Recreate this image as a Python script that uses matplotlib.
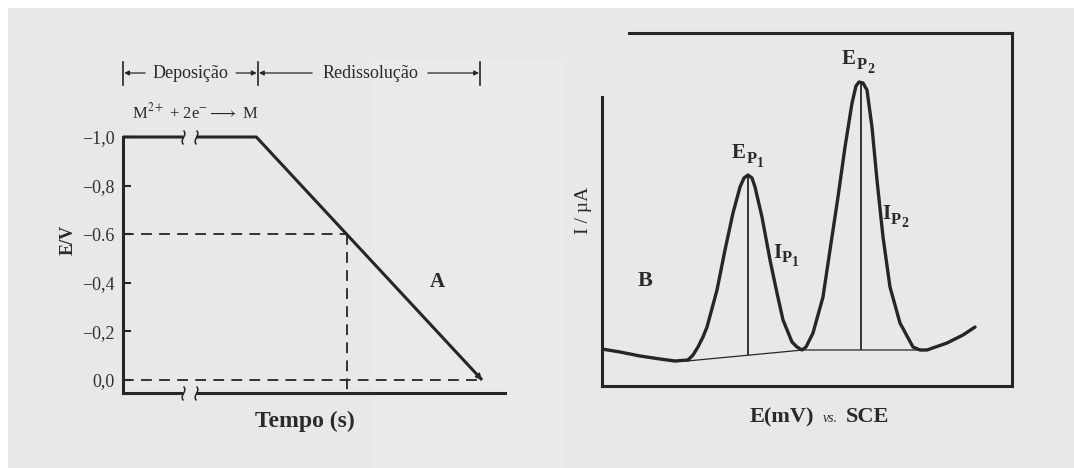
import matplotlib
matplotlib.use('Agg')
import matplotlib.pyplot as plt
from matplotlib import transforms
from matplotlib.path import Path
from matplotlib.patches import Rectangle

plt.rcParams['font.family'] = ['Liberation Serif', 'DejaVu Serif']
plt.rcParams['mathtext.fontset'] = 'stix'

# ---------------- Panel A data ----------------
tempo = [0.0, 3.49, 9.40]
potencial = [-1.0, -1.0, 0.0]
t_break = 1.75
E_marca = -0.6
t_marca = 5.854
yticks = [-1.0, -0.8, -0.6, -0.4, -0.2, 0.0]
ytick_labels = ["−1,0", "−0,8", "−0.6", "−0,4", "−0,2", "0,0"]
t_fases = [0.0, 3.53, 9.35]

# ---------------- Panel B data ----------------
E_mv = [0.0, 4.39, 9.27, 14.15, 17.80, 20.98, 22.20, 23.41, 24.63, 25.61,
        28.05, 30.00, 31.95, 33.66, 34.63, 35.61, 36.59, 37.32, 39.02, 40.98,
        42.68, 44.15, 46.34, 47.56, 48.78, 49.76, 51.46, 53.90, 55.61, 57.56,
        59.27, 60.98, 61.95, 62.68, 63.66, 64.63, 65.85, 67.07, 68.54, 70.24,
        72.68, 75.85, 77.56, 79.27, 84.15, 88.05, 90.98]
I_ua = [10.48, 9.63, 8.50, 7.65, 7.08, 7.37, 8.78, 11.05, 13.88, 16.71,
        27.20, 38.53, 49.01, 56.37, 58.92, 59.77, 58.92, 56.37, 47.88, 35.69,
        26.35, 18.70, 12.46, 11.05, 10.20, 11.05, 15.01, 25.21, 38.53, 53.54,
        67.71, 80.17, 84.99, 86.12, 85.84, 83.85, 73.37, 58.36, 42.21, 28.05,
        17.85, 11.05, 10.20, 10.20, 12.18, 14.45, 16.71]
E_base = [20.73, 49.02, 79.27]
I_base = [7.08, 10.20, 10.20]
E_picos = [35.61, 63.17]
I_picos = [59.77, 86.12]
I_pico_base = [8.73, 10.06]

W, H = 1074, 468
lc = '#262626'
tc = '#2a2a2a'
bg = '#e8e8e8'

def fx(px):
    return px / W

def fy(py):
    return 1 - py / H

fig = plt.figure(figsize=(W / 100, H / 100), dpi=100, facecolor='white')
fig.patches.append(Rectangle((8 / W, 0), 1 - 8 / W, 1 - 8 / H, transform=fig.transFigure,
                             facecolor=bg, edgecolor='none', zorder=-10))
fig.patches.append(Rectangle((fx(372), 0), (565 - 372) / W, fy(60), transform=fig.transFigure,
                             facecolor='#eaeaea', edgecolor='none', zorder=-9))

# ================= Panel A =================
axA = fig.add_axes([fx(123), fy(393), (505 - 123) / W, (393 - 137) / H])
axA.set_facecolor('none')
axA.set_xlim(0, 10)
ybot = 0.0535
axA.set_ylim(ybot, -1.0)
for s in ['top', 'right']:
    axA.spines[s].set_visible(False)
for s in ['left', 'bottom']:
    axA.spines[s].set_linewidth(2.2)
    axA.spines[s].set_color(lc)
axA.set_xticks([])
axA.set_yticks(yticks, ytick_labels)
axA.tick_params(axis='y', direction='in', length=6, width=1.5, color=lc,
                labelsize=13, pad=6, labelcolor='#303030')

axA.plot(tempo, potencial, color=lc, lw=2.2, clip_on=False, solid_capstyle='butt', zorder=3)
axA.annotate('', xy=(tempo[-1], potencial[-1]), xytext=(9.0, -0.0677),
             arrowprops=dict(arrowstyle='-|>', color=lc, lw=1.2, mutation_scale=9,
                             shrinkA=0, shrinkB=0), annotation_clip=False)
dash = (0, (6, 4))
axA.plot([0, t_marca], [E_marca, E_marca], color=lc, lw=1.3, ls=dash)
axA.plot([t_marca, t_marca], [E_marca, ybot], color=lc, lw=1.3, ls=dash, clip_on=False)
axA.plot([0, tempo[-1]], [0, 0], color=lc, lw=1.3, ls=dash)

# break marks
sq = Path([(0, -1), (-0.7, -0.3), (0.7, 0.3), (0, 1)],
          [Path.MOVETO, Path.CURVE4, Path.CURVE4, Path.CURVE4])
for yb in [-1.0, ybot]:
    axA.plot([t_break - 0.17, t_break + 0.17], [yb, yb], color=bg, lw=3.5,
             clip_on=False, zorder=4, solid_capstyle='butt')
    axA.plot([t_break - 0.17, t_break + 0.17], [yb, yb], ls='none', marker=sq,
             markersize=10, mew=1.1, mec=lc, mfc='none', clip_on=False, zorder=5)

# header
trans = transforms.blended_transform_factory(axA.transData, fig.transFigure)
yh = fy(73)
for t in t_fases:
    axA.plot([t, t], [fy(62), fy(85)], transform=trans, color=lc, lw=1.2, clip_on=False)
arrow_kw = dict(arrowstyle='-|>', color=lc, lw=0.9, mutation_scale=7, shrinkA=0, shrinkB=0)
for x0, x1 in [(0.58, 0.03), (2.96, 3.50), (4.95, 3.56), (7.98, 9.32)]:
    axA.annotate('', xy=(x1, yh), xytext=(x0, yh), xycoords=trans, textcoords=trans,
                 arrowprops=arrow_kw, annotation_clip=False)
axA.text(1.77, yh, "Deposição", transform=trans, ha='center', va='center',
         fontsize=13, color=tc)
axA.text(6.47, yh, "Redissolução", transform=trans, ha='center', va='center',
         fontsize=13, color=tc)

fig.text(fx(195), fy(112), r"M$^{2+}$ + 2e$^{-}$$\longrightarrow$ M", ha='center',
         va='center', fontsize=12, color=tc)
fig.text(fx(68), fy(240), "E/V", rotation=90, ha='center', va='center',
         fontsize=13, fontweight='bold', color=tc)
fig.text(fx(437), fy(282), "A", ha='center', va='center', fontsize=15,
         fontweight='bold', color=tc)
fig.text(fx(305), fy(427), "Tempo (s)", ha='center', va='baseline', fontsize=17,
         fontweight='bold', color=tc)

# ================= Panel B =================
axB = fig.add_axes([fx(602), fy(386), 410 / W, 353 / H])
axB.set_facecolor('none')
axB.set_xlim(0, 100)
axB.set_ylim(0, 100)
axB.set_xticks([])
axB.set_yticks([])
for s in axB.spines.values():
    s.set_linewidth(2.2)
    s.set_color(lc)
axB.spines['left'].set_bounds(0, 81.9)
axB.spines['top'].set_bounds(6.59, 100)

axB.plot(E_mv, I_ua, color=lc, lw=2.4, solid_joinstyle='round', solid_capstyle='round')
axB.plot(E_base, I_base, color=lc, lw=0.9)
axB.vlines(E_picos, I_pico_base, I_picos, color=lc, lw=1.3)


def peak_label(parts):
    # parts: list of (text, left_px, baseline_px, fontsize)
    for txt, xl, yb, fs in parts:
        fig.text(fx(xl), fy(yb), txt, ha='left', va='baseline', fontsize=fs,
                 fontweight='bold', color=tc)


peak_label([("E", 732, 158, 15), ("P", 747, 163, 12), ("1", 757, 167, 10)])
peak_label([("E", 842, 64, 15), ("P", 857, 69, 12), ("2", 867, 73, 10)])
peak_label([("I", 773, 258, 15), ("P", 782, 262, 12), ("1", 792, 266, 10)])
peak_label([("I", 882, 219, 15), ("P", 891, 224, 12), ("2", 901, 227, 10)])

fig.text(fx(645), fy(281), "B", ha='center', va='center', fontsize=16,
         fontweight='bold', color=tc)
fig.text(fx(583), fy(210), "I / µA", rotation=90, ha='center', va='center',
         fontsize=14, color=tc)
fig.text(fx(814), fy(422), "E(mV)", ha='right', va='baseline', fontsize=16,
         fontweight='bold', color=tc)
fig.text(fx(830), fy(422), "vs.", ha='center', va='baseline', fontsize=10,
         fontstyle='italic', color=tc)
fig.text(fx(846), fy(422), "SCE", ha='left', va='baseline', fontsize=16,
         fontweight='bold', color=tc)

fig.savefig('out.png', dpi=100, facecolor='white')
